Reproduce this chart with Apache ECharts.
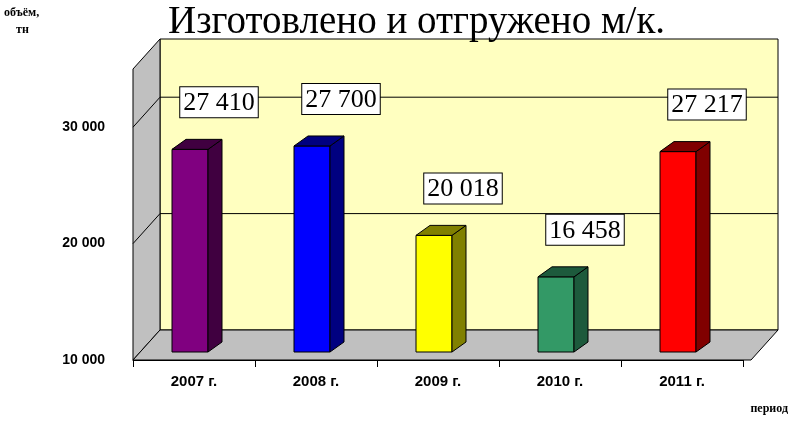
<!DOCTYPE html>
<html>
<head>
<meta charset="utf-8">
<script src="https://cdn.jsdelivr.net/npm/echarts@6/dist/echarts.min.js"></script>
<style>html,body{margin:0;padding:0;background:#fff}#c{width:789px;height:423px}</style>
</head>
<body>
<div id="c"></div>
<script>
var categories = ['2007 г.', '2008 г.', '2009 г.', '2010 г.', '2011 г.'];
var values = [27410, 27700, 20018, 16458, 27217];
var labels = ['27 410', '27 700', '20 018', '16 458', '27 217'];
var frontColors = ['#800080', '#0000ff', '#ffff00', '#339966', '#ff0000'];
var sideColors = ['#400040', '#000080', '#808000', '#1d5a3c', '#800000'];
var yTicks = [10000, 20000, 30000];

var DX = 27, DY = -30; // глубина
var chart = echarts.init(document.getElementById('c'));

function bar3d(params, api) {
   var i = api.value(0), v = api.value(1);
   var base = api.coord([i, 10000]), top = api.coord([i, v]);
   var w = 36, x0 = base[0] - 22, x1 = x0 + w, y0 = base[1] - 8, y1 = top[1] - 8;
   var sx = 14, sy = -10;
   var line = { stroke: '#000', lineWidth: 1 };
   return {
      type: 'group',
      children: [
         { type: 'rect', shape: { x: x0, y: y1, width: w, height: y0 - y1 },
           style: Object.assign({ fill: frontColors[i] }, line) },
         { type: 'polygon', shape: { points: [[x1, y1], [x1 + sx, y1 + sy], [x1 + sx, y0 + sy], [x1, y0]] },
           style: Object.assign({ fill: sideColors[i] }, line) },
         { type: 'polygon', shape: { points: [[x0, y1], [x0 + sx, y1 + sy], [x1 + sx, y1 + sy], [x1, y1]] },
           style: Object.assign({ fill: sideColors[i] }, line) },
         { type: 'text', x: x0 + 47, y: y1 - 62,
           style: { text: labels[i], fill: '#000', font: '26px "Liberation Serif"', align: 'center',
                    backgroundColor: '#fff', borderColor: '#000', borderWidth: 1, padding: [3, 3, 1, 3] } }
      ]
   };
}

chart.setOption({
   animation: false,
   grid: { left: 133, right: 46, top: 69, bottom: 63 },
   xAxis: {
      type: 'category', data: categories,
      axisLine: { lineStyle: { color: '#000' } },
      axisTick: { show: true, length: 7, lineStyle: { color: '#000' } },
      axisLabel: { color: '#000', fontFamily: 'Liberation Sans', fontWeight: 'bold', fontSize: 15, margin: 14 }
   },
   yAxis: {
      min: 10000, max: 35000, interval: 10000,
      axisLine: { show: false }, axisTick: { show: false }, splitLine: { show: false },
      axisLabel: { color: '#000', fontFamily: 'Liberation Sans', fontWeight: 'bold', fontSize: 14, margin: 28,
                   formatter: function (v) { return yTicks.indexOf(v) >= 0 ? v.toLocaleString('ru-RU').replace(/\s/g, ' ') : ''; } }
   },
   series: [{ type: 'custom', renderItem: bar3d, data: values.map(function (v, i) { return [i, v]; }), z: 5 }]
});

// стенки и пол
var L = chart.convertToPixel({ xAxisIndex: 0 }, 0) - 61;
var R = chart.convertToPixel({ xAxisIndex: 0 }, 4) + 69;
function py(v) { return chart.convertToPixel({ yAxisIndex: 0 }, v); }
var yb = py(10000), yt = py(35000);
var g = [
   { type: 'polygon', shape: { points: [[L + DX, yt + DY], [R + DX, yt + DY], [R + DX, yb + DY], [L + DX, yb + DY]] },
     style: { fill: '#ffffc0', stroke: '#000' }, z: 0 },
   { type: 'polygon', shape: { points: [[L, yt], [L + DX, yt + DY], [L + DX, yb + DY], [L, yb]] },
     style: { fill: '#c0c0c0', stroke: '#000' }, z: 0 },
   { type: 'polygon', shape: { points: [[L, yb], [L + DX, yb + DY], [R + DX, yb + DY], [R, yb]] },
     style: { fill: '#c0c0c0', stroke: '#000' }, z: 0 },
   { type: 'text', left: 4, top: 4, style: { text: 'объём,\n    тн', font: 'bold 12px "Liberation Serif"', fill: '#000', lineHeight: 17 }, z: 10 },
   { type: 'text', right: 1, top: 403, style: { text: 'период', font: 'bold 12px "Liberation Serif"', fill: '#000' }, z: 10 },
   { type: 'text', left: 168, top: 3, style: { text: 'Изготовлено и отгружено м/к.', font: '39px "Liberation Serif"', fill: '#000' }, z: 10 }
];
[20000, 30000].forEach(function (v) {
   var y = py(v);
   g.push({ type: 'polyline', shape: { points: [[L, y], [L + DX, y + DY], [R + DX, y + DY]] },
            style: { stroke: '#000', lineWidth: 1 }, z: 1 });
});
chart.setOption({ graphic: g });
</script>
</body>
</html>
